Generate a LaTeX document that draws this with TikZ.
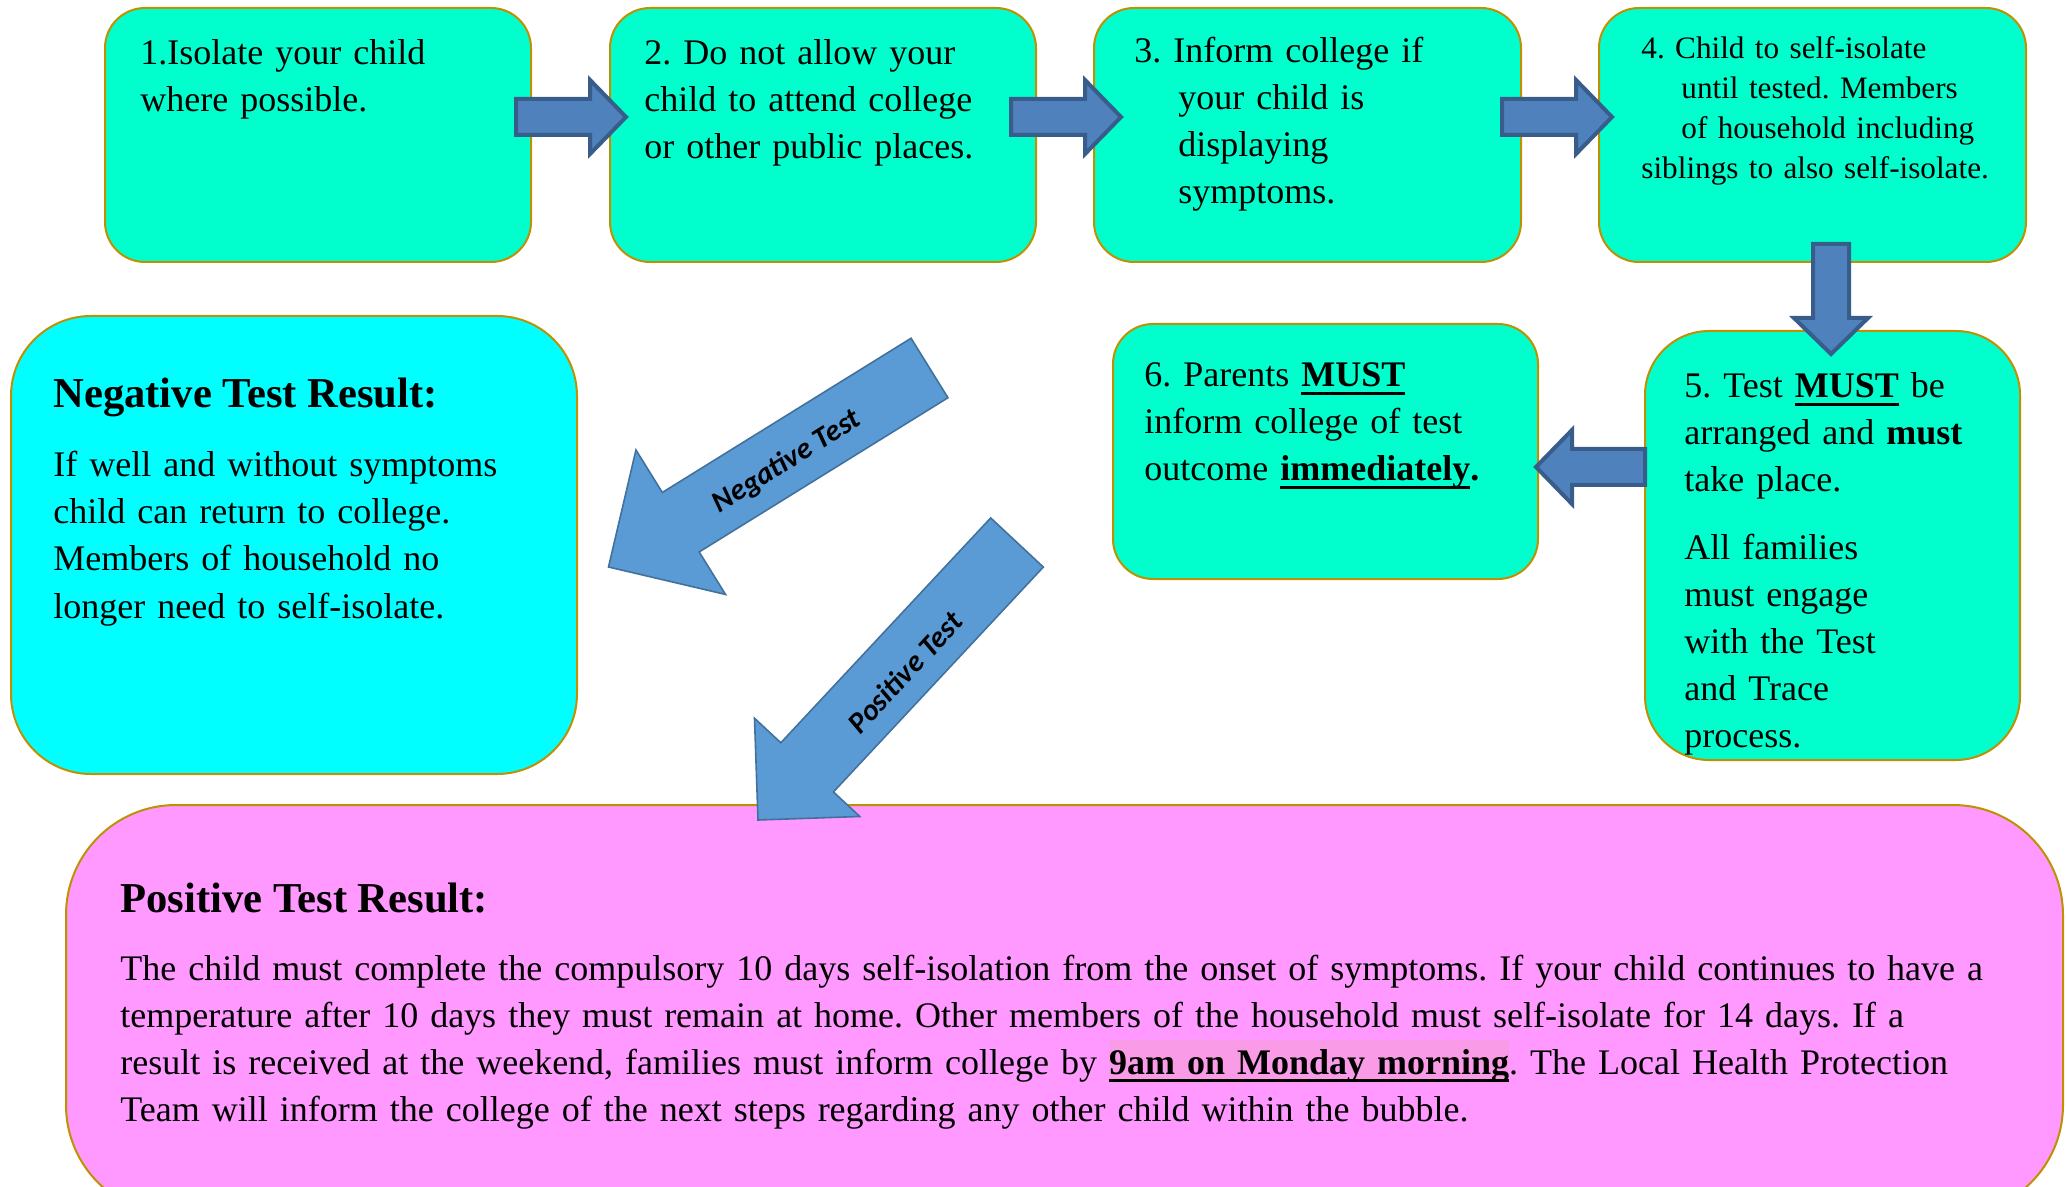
\documentclass[tikz,border=0pt]{standalone}
\usepackage{fontspec}
\setmainfont{Liberation Serif}
\newfontfamily\arrowfont{Carlito}
\usetikzlibrary{calc,fit}
\frenchspacing
\hyphenpenalty=10000

\definecolor{stepfill}{RGB}{0,255,204}
\definecolor{negfill}{RGB}{0,255,255}
\definecolor{posfill}{RGB}{255,153,255}
\definecolor{hilite}{RGB}{250,155,232}
\definecolor{boxline}{RGB}{191,144,0}
\definecolor{darkarrow}{RGB}{79,129,189}
\definecolor{darkarrowline}{RGB}{56,93,138}
\definecolor{lightarrow}{RGB}{91,155,213}
\definecolor{lightarrowline}{RGB}{65,113,156}

% bold text with a thick underline
\newsavebox{\ulbox}
\newcommand{\mustline}[1]{\sbox{\ulbox}{\textbf{#1}}\rlap{\rule[-4.2pt]{\wd\ulbox}{1.6pt}}\usebox{\ulbox}}

% block arrow: [style]{tail}{tip}{shaft half width}{head half width}{head length}
\newcommand{\blockarrow}[6][]{%
  \path (#2) coordinate (ba-s) (#3) coordinate (ba-t);
  \path ($(ba-t)!#6!(ba-s)$) coordinate (ba-h);
  \draw[#1] ($(ba-s)!#4!90:(ba-t)$) -- ($(ba-h)!#4!90:(ba-t)$) -- ($(ba-h)!#5!90:(ba-t)$)
    -- (ba-t) -- ($(ba-h)!#5!-90:(ba-t)$) -- ($(ba-h)!#4!-90:(ba-t)$) -- ($(ba-s)!#4!-90:(ba-t)$) -- cycle;
}

\begin{document}
\begin{tikzpicture}[x=0.5pt,y=-0.5pt,
  stepbox/.style={draw=boxline,line width=1pt,fill=stepfill,rounded corners=20pt,inner sep=0pt},
  negbox/.style={stepbox,fill=negfill,rounded corners=40pt},
  posbox/.style={stepbox,fill=posfill,rounded corners=55pt},
  steptext/.style={anchor=base west,inner sep=0pt,align=left,text width=280pt,font=\fontsize{18}{23.5}\selectfont},
  smalltext/.style={steptext,font=\fontsize{15.6}{20}\selectfont},
  titletext/.style={anchor=base west,inner sep=0pt,font=\fontsize{21.3}{25}\selectfont\bfseries},
  bigarrow/.style={fill=darkarrow,draw=darkarrowline,line width=2pt},
  testarrow/.style={fill=lightarrow,draw=lightarrowline,line width=0.8pt},
  arrowlabel/.style={inner sep=0pt,font=\arrowfont\fontsize{15}{18}\selectfont\bfseries\itshape}]
\useasboundingbox (0,0) rectangle (2067,1187);

% boxes
\node[stepbox,fit={(105,8) (531,262)}] (b1) {};
\node[stepbox,fit={(610,8) (1036,262)}] (b2) {};
\node[stepbox,fit={(1094,8) (1521,262)}] (b3) {};
\node[stepbox,fit={(1599,8) (2026,262)}] (b4) {};
\node[stepbox,rounded corners=32pt,fit={(1645,331) (2020,760)}] (b5) {};
\node[stepbox,fit={(1113,324) (1538,579)}] (b6) {};
\node[negbox,fit={(11,316) (577,774)}] (neg) {};
\node[posbox,fit={(66,805) (2063,1215)}] (pos) {};

% texts
\node[steptext] (t1) at (140,65) {1.Isolate your child\\where possible.};
\node[steptext] (t2) at (644,65) {2. Do not allow your\\child to attend college\\or other public places.};
\node[steptext] (t3) at (1134,63) {3. Inform college if\\\hspace*{22pt}your child is\\\hspace*{22pt}displaying\\\hspace*{22pt}symptoms.};
\node[smalltext] (t4) at (1641,59) {4. Child to self-isolate\\\hspace*{20pt}until tested. Members\\\hspace*{20pt}of household including\\siblings to also self-isolate.};
\node[steptext] (t5) at (1684,398) {5. Test \mustline{MUST} be\\arranged and \textbf{must}\\take place.\\[10.5pt]All families\\must engage\\with the Test\\and Trace\\process.};
\node[steptext] (t6) at (1144,387) {6. Parents \mustline{MUST}\\inform college of test\\outcome \mustline{immediately}\textbf{.}};
\node[titletext] (negtitle) at (53,408) {Negative Test Result:};
\node[steptext] (negbody) at (53,477) {If well and without symptoms\\child can return to college.\\Members of household no\\longer need to self-isolate.};
\node[titletext] (postitle) at (120,912) {Positive Test Result:};
\node[steptext,text width=980pt] (posbody) at (120,980) {The child must complete the compulsory 10 days self-isolation from the onset of symptoms. If your child continues to have a\\temperature after 10 days they must remain at home. Other members of the household must self-isolate for 14 days. If a\\result is received at the weekend, families must inform college by {\setlength{\fboxsep}{0pt}\colorbox{hilite}{\rule[-4.5pt]{0pt}{21.5pt}\mustline{9am on Monday morning}}}. The Local Health Protection\\Team will inform the college of the next steps regarding any other child within the bubble.};

% step arrows
\blockarrow[bigarrow]{$(b1.east)+(-16,-18)$}{$(b2.west)+(17,-18)$}{9pt}{18.5pt}{18pt}
\blockarrow[bigarrow]{$(b2.east)+(-26,-18)$}{$(b3.west)+(28,-18)$}{9pt}{18.5pt}{18pt}
\blockarrow[bigarrow]{$(b3.east)+(-20,-18)$}{$(b4.west)+(14,-18)$}{9pt}{18.5pt}{18pt}
\blockarrow[bigarrow]{$(b4.south)+(18.5,-19)$}{$(b5.north)+(-1.5,24)$}{9pt}{18.5pt}{18pt}
\blockarrow[bigarrow]{$(b5.west)+(1,-78.5)$}{$(b6.east)+(-3,15.5)$}{9pt}{18.5pt}{18pt}

% test result arrows
\coordinate (negtail) at (929.5,368);
\coordinate (postail) at (1017,542.5);
\blockarrow[testarrow]{negtail}{$(neg.east)+(30.5,22)$}{17.5pt}{42.5pt}{42.5pt}
\blockarrow[testarrow]{postail}{$(pos.north)+(-306.5,16)$}{18pt}{36pt}{36pt}
\node[arrowlabel,rotate=32] (neglabel) at (787,462) {Negative Test};
\node[arrowlabel,rotate=47] (poslabel) at (905,672) {Positive Test};
\end{tikzpicture}
\end{document}
